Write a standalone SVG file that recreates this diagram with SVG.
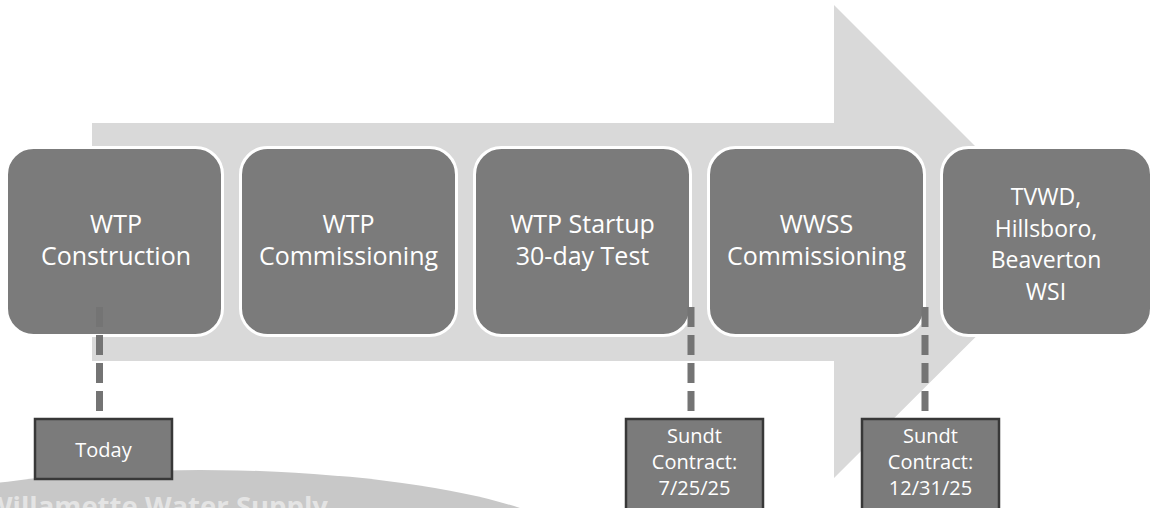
<svg xmlns="http://www.w3.org/2000/svg" width="1153" height="508" viewBox="0 0 1153 508">
<style>
.stage{fill:#7b7b7b;stroke:#ffffff;stroke-width:3}
.lbl{fill:#ffffff;font-family:"Open Sans","Noto Sans",sans-serif;font-size:25px;text-anchor:middle}
.lbl4{fill:#ffffff;font-family:"Open Sans","Noto Sans",sans-serif;font-size:23px;text-anchor:middle}
.mark{fill:#7b7b7b;stroke:#383838;stroke-width:2.5}
.mlbl{fill:#ffffff;font-family:"Open Sans","Noto Sans",sans-serif;font-size:20px;text-anchor:middle}
.dash{stroke:#747474;stroke-width:7;stroke-dasharray:20 8;fill:none}
</style>
<rect width="1153" height="508" fill="#ffffff"/>
<g id="watermark">
<ellipse cx="200" cy="560" rx="392" ry="90" fill="#c8c8c8"/>
<text x="-14" y="516" font-family="'Open Sans','Noto Sans',sans-serif" font-weight="bold" font-size="27.5" fill="#e4e4e4">Willamette Water Supply</text>
</g>
<g id="arrow">
<polygon points="92,123 834,123 834,5 1071,242 834,478 834,361 92,361" fill="#d9d9d9"/>
</g>
<g id="node-wtp-construction">
<rect class="stage" x="6.5" y="147.5" width="216" height="188" rx="27"/>
<text class="lbl" x="116" y="233">WTP</text>
<text class="lbl" x="116" y="265">Construction</text>
</g>
<g id="node-wtp-commissioning">
<rect class="stage" x="240.5" y="147.5" width="216" height="188" rx="27"/>
<text class="lbl" x="348.5" y="233">WTP</text>
<text class="lbl" x="348.5" y="265">Commissioning</text>
</g>
<g id="node-wtp-startup">
<rect class="stage" x="474.5" y="147.5" width="216" height="188" rx="27"/>
<text class="lbl" x="582.5" y="233">WTP Startup</text>
<text class="lbl" x="582.5" y="265">30-day Test</text>
</g>
<g id="node-wwss-commissioning">
<rect class="stage" x="708.5" y="147.5" width="216" height="188" rx="27"/>
<text class="lbl" x="816.5" y="233">WWSS</text>
<text class="lbl" x="816.5" y="265">Commissioning</text>
</g>
<g id="node-wsi">
<rect class="stage" x="941.5" y="147.5" width="210" height="188" rx="27"/>
<text class="lbl4" x="1046" y="205">TVWD,</text>
<text class="lbl4" x="1046" y="236.5">Hillsboro,</text>
<text class="lbl4" x="1046" y="268">Beaverton</text>
<text class="lbl4" x="1046" y="299.5">WSI</text>
</g>
<g id="connectors">
<line class="dash" x1="99.5" y1="307" x2="99.5" y2="412"/>
<line class="dash" x1="691" y1="307" x2="691" y2="412"/>
<line class="dash" x1="925" y1="307" x2="925" y2="412"/>
</g>
<g id="node-today">
<rect class="mark" x="35" y="419" width="137" height="60"/>
<text class="mlbl" x="103.5" y="457">Today</text>
</g>
<g id="node-sundt-1">
<rect class="mark" x="626" y="419" width="137" height="100"/>
<text class="mlbl" x="694.5" y="443">Sundt</text>
<text class="mlbl" x="694.5" y="469">Contract:</text>
<text class="mlbl" x="694.5" y="495">7/25/25</text>
</g>
<g id="node-sundt-2">
<rect class="mark" x="862" y="419" width="137" height="100"/>
<text class="mlbl" x="930.5" y="443">Sundt</text>
<text class="mlbl" x="930.5" y="469">Contract:</text>
<text class="mlbl" x="930.5" y="495">12/31/25</text>
</g>
</svg>
